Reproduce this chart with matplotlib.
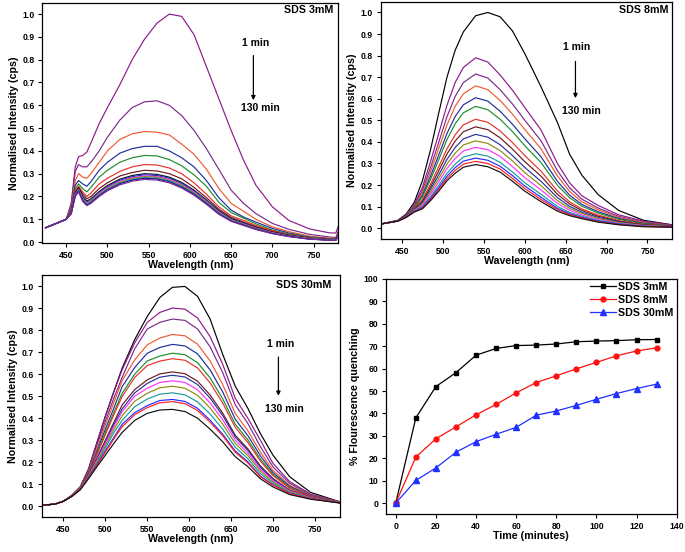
import matplotlib
matplotlib.use('Agg')
import matplotlib.pyplot as plt

plt.rcParams['font.family'] = ['Liberation Sans', 'DejaVu Sans']
plt.rcParams['font.weight'] = 'bold'

# ---- SDS 3mM spectra ----
wl_3 = [425, 440, 450, 456, 461, 465, 470, 475, 480, 490, 500, 515, 530, 545, 560,
        575, 590, 605, 620, 635, 650, 665, 680, 700, 720, 745, 770, 777, 780]
s3_a = [0.063, 0.085, 0.10, 0.17, 0.33, 0.375, 0.38, 0.395, 0.435, 0.52, 0.59, 0.69, 0.80, 0.89, 0.96,
        1.0, 0.99, 0.91, 0.77, 0.63, 0.49, 0.36, 0.25, 0.155, 0.095, 0.058, 0.04, 0.04, 0.07]
s3_b = [0.063, 0.085, 0.10, 0.16, 0.31, 0.34, 0.33, 0.33, 0.35, 0.40, 0.46, 0.535, 0.59, 0.615, 0.62,
        0.60, 0.555, 0.49, 0.41, 0.32, 0.228, 0.17, 0.125, 0.082, 0.056, 0.034, 0.022, 0.02, 0.05]
s3_c = [0.063, 0.085, 0.10, 0.15, 0.27, 0.30, 0.285, 0.28, 0.30, 0.35, 0.40, 0.45, 0.475, 0.485, 0.482,
        0.47, 0.43, 0.385, 0.32, 0.236, 0.17, 0.135, 0.10, 0.067, 0.046, 0.026, 0.017, 0.016, 0.04]
s3_d = [0.063, 0.085, 0.10, 0.145, 0.25, 0.27, 0.255, 0.245, 0.265, 0.315, 0.35, 0.39, 0.41, 0.42, 0.42,
        0.40, 0.37, 0.33, 0.27, 0.195, 0.14, 0.11, 0.088, 0.06, 0.04, 0.022, 0.015, 0.014, 0.035]
s3_e = [0.063, 0.085, 0.10, 0.14, 0.235, 0.255, 0.235, 0.22, 0.24, 0.285, 0.315, 0.35, 0.37, 0.38, 0.378,
        0.362, 0.335, 0.295, 0.245, 0.175, 0.13, 0.105, 0.08, 0.053, 0.036, 0.02, 0.013, 0.013, 0.03]
s3_f = [0.063, 0.085, 0.10, 0.135, 0.225, 0.245, 0.22, 0.20, 0.215, 0.255, 0.28, 0.31, 0.33, 0.34, 0.338,
        0.325, 0.30, 0.26, 0.21, 0.155, 0.115, 0.095, 0.073, 0.05, 0.033, 0.018, 0.012, 0.012, 0.03]
s3_g = [0.063, 0.085, 0.10, 0.13, 0.22, 0.24, 0.21, 0.19, 0.20, 0.235, 0.26, 0.29, 0.305, 0.315, 0.312,
        0.30, 0.278, 0.24, 0.195, 0.145, 0.108, 0.088, 0.068, 0.046, 0.031, 0.017, 0.011, 0.011, 0.03]
s3_h = [0.063, 0.085, 0.10, 0.13, 0.215, 0.235, 0.20, 0.18, 0.19, 0.222, 0.248, 0.276, 0.292, 0.30, 0.297,
        0.285, 0.262, 0.228, 0.185, 0.138, 0.103, 0.083, 0.064, 0.043, 0.029, 0.016, 0.01, 0.01, 0.03]
s3_i = [0.063, 0.085, 0.10, 0.128, 0.212, 0.232, 0.195, 0.175, 0.185, 0.218, 0.243, 0.271, 0.287, 0.295, 0.292,
        0.28, 0.257, 0.224, 0.182, 0.135, 0.10, 0.081, 0.062, 0.042, 0.028, 0.015, 0.01, 0.01, 0.028]
s3_j = [0.063, 0.085, 0.10, 0.127, 0.21, 0.23, 0.19, 0.172, 0.182, 0.214, 0.239, 0.266, 0.282, 0.29, 0.287,
        0.275, 0.252, 0.22, 0.178, 0.132, 0.098, 0.079, 0.061, 0.041, 0.027, 0.015, 0.009, 0.009, 0.028]
s3_k = [0.063, 0.085, 0.10, 0.126, 0.207, 0.228, 0.188, 0.17, 0.18, 0.211, 0.236, 0.263, 0.279, 0.287, 0.284,
        0.272, 0.249, 0.217, 0.176, 0.13, 0.097, 0.078, 0.06, 0.04, 0.026, 0.014, 0.009, 0.009, 0.027]
s3_l = [0.063, 0.085, 0.10, 0.125, 0.205, 0.226, 0.185, 0.166, 0.176, 0.207, 0.232, 0.259, 0.275, 0.283, 0.28,
        0.268, 0.245, 0.213, 0.172, 0.127, 0.095, 0.076, 0.058, 0.039, 0.026, 0.014, 0.009, 0.009, 0.027]
s3_m = [0.063, 0.085, 0.10, 0.124, 0.203, 0.224, 0.182, 0.163, 0.173, 0.204, 0.229, 0.256, 0.272, 0.28, 0.277,
        0.265, 0.242, 0.21, 0.17, 0.125, 0.093, 0.075, 0.057, 0.038, 0.025, 0.013, 0.008, 0.008, 0.026]
s3_n = [0.063, 0.085, 0.10, 0.123, 0.20, 0.22, 0.178, 0.16, 0.17, 0.20, 0.225, 0.251, 0.267, 0.275, 0.272,
        0.26, 0.237, 0.206, 0.166, 0.122, 0.091, 0.073, 0.055, 0.037, 0.024, 0.013, 0.008, 0.008, 0.026]

# ---- SDS 8mM spectra ----
wl_8 = [425, 445, 455, 465, 475, 485, 495, 505, 515, 525, 540, 555, 570, 585, 600, 620,
        640, 655, 670, 690, 715, 745, 780]
s8_00 = [0.02, 0.037, 0.065, 0.12, 0.22, 0.365, 0.535, 0.70, 0.825, 0.91, 0.985, 1.0, 0.98, 0.915, 0.81, 0.655,
         0.49, 0.342, 0.245, 0.155, 0.082, 0.037, 0.016]
s8_01 = [0.02, 0.035, 0.06, 0.11, 0.19, 0.31, 0.44, 0.57, 0.675, 0.745, 0.79, 0.77, 0.71, 0.64, 0.56, 0.455,
         0.30, 0.21, 0.15, 0.105, 0.062, 0.033, 0.015]
s8_02 = [0.02, 0.035, 0.058, 0.105, 0.175, 0.282, 0.399, 0.517, 0.611, 0.675, 0.715, 0.696, 0.642, 0.576, 0.501, 0.405,
         0.266, 0.187, 0.134, 0.093, 0.055, 0.029, 0.013]
s8_03 = [0.02, 0.034, 0.057, 0.101, 0.164, 0.262, 0.37, 0.478, 0.565, 0.623, 0.66, 0.642, 0.592, 0.529, 0.458, 0.368,
         0.242, 0.17, 0.122, 0.085, 0.05, 0.026, 0.012]
s8_04 = [0.02, 0.034, 0.056, 0.097, 0.153, 0.242, 0.34, 0.439, 0.518, 0.572, 0.605, 0.589, 0.542, 0.482, 0.415, 0.331,
         0.217, 0.153, 0.11, 0.076, 0.045, 0.023, 0.011]
s8_05 = [0.02, 0.034, 0.055, 0.094, 0.145, 0.227, 0.318, 0.411, 0.484, 0.535, 0.565, 0.549, 0.505, 0.448, 0.383, 0.304,
         0.199, 0.141, 0.102, 0.07, 0.041, 0.021, 0.01]
s8_06 = [0.02, 0.034, 0.054, 0.09, 0.132, 0.205, 0.286, 0.368, 0.433, 0.479, 0.505, 0.491, 0.451, 0.397, 0.337, 0.264,
         0.173, 0.122, 0.089, 0.061, 0.035, 0.018, 0.009]
s8_07 = [0.02, 0.034, 0.054, 0.087, 0.125, 0.192, 0.267, 0.344, 0.404, 0.447, 0.47, 0.457, 0.419, 0.367, 0.309, 0.241,
         0.157, 0.112, 0.082, 0.055, 0.032, 0.016, 0.009]
s8_08 = [0.02, 0.033, 0.053, 0.085, 0.118, 0.18, 0.248, 0.319, 0.374, 0.414, 0.435, 0.422, 0.387, 0.337, 0.282, 0.217,
         0.142, 0.101, 0.074, 0.05, 0.029, 0.014, 0.008]
s8_09 = [0.02, 0.033, 0.052, 0.083, 0.112, 0.168, 0.231, 0.298, 0.348, 0.386, 0.405, 0.393, 0.36, 0.312, 0.258, 0.197,
         0.128, 0.092, 0.068, 0.045, 0.026, 0.013, 0.007]
s8_10 = [0.02, 0.033, 0.052, 0.081, 0.106, 0.157, 0.215, 0.277, 0.323, 0.358, 0.375, 0.364, 0.333, 0.286, 0.235, 0.177,
         0.115, 0.083, 0.061, 0.04, 0.023, 0.011, 0.007]
s8_11 = [0.02, 0.033, 0.051, 0.079, 0.10, 0.146, 0.199, 0.255, 0.297, 0.33, 0.345, 0.334, 0.305, 0.261, 0.211, 0.157,
         0.101, 0.073, 0.055, 0.036, 0.021, 0.01, 0.006]
s8_12 = [0.02, 0.033, 0.051, 0.077, 0.096, 0.139, 0.188, 0.241, 0.281, 0.311, 0.325, 0.315, 0.287, 0.244, 0.196, 0.143,
         0.092, 0.067, 0.05, 0.033, 0.019, 0.009, 0.006]
s8_13 = [0.02, 0.033, 0.05, 0.076, 0.093, 0.133, 0.18, 0.23, 0.268, 0.297, 0.31, 0.30, 0.274, 0.231, 0.184, 0.133,
         0.086, 0.063, 0.047, 0.03, 0.017, 0.008, 0.005]
s8_14 = [0.02, 0.033, 0.05, 0.075, 0.09, 0.128, 0.172, 0.22, 0.255, 0.283, 0.295, 0.285, 0.26, 0.218, 0.172, 0.123,
         0.079, 0.058, 0.044, 0.028, 0.016, 0.007, 0.005]

# ---- SDS 30mM spectra ----
wl_30 = [425, 440, 450, 460, 470, 480, 490, 500, 510, 520, 535, 550, 565, 580, 595, 610,
         625, 640, 655, 670, 685, 700, 720, 745, 780]
s30_00 = [0.005, 0.01, 0.023, 0.05, 0.088, 0.17, 0.29, 0.41, 0.52, 0.627, 0.757, 0.862, 0.948, 0.994, 0.998, 0.953,
          0.85, 0.69, 0.545, 0.445, 0.33, 0.232, 0.134, 0.063, 0.02]
s30_01 = [0.005, 0.01, 0.023, 0.05, 0.088, 0.17, 0.29, 0.408, 0.518, 0.62, 0.742, 0.835, 0.88, 0.90, 0.895, 0.855,
          0.77, 0.645, 0.49, 0.40, 0.30, 0.195, 0.112, 0.055, 0.02]
s30_02 = [0.005, 0.01, 0.023, 0.049, 0.087, 0.165, 0.278, 0.386, 0.49, 0.585, 0.715, 0.805, 0.835, 0.85, 0.844, 0.805,
          0.724, 0.607, 0.461, 0.376, 0.271, 0.179, 0.104, 0.052, 0.019]
s30_03 = [0.005, 0.01, 0.023, 0.049, 0.085, 0.158, 0.261, 0.37, 0.47, 0.57, 0.665, 0.733, 0.764, 0.78, 0.774, 0.736,
          0.66, 0.553, 0.421, 0.343, 0.246, 0.163, 0.095, 0.049, 0.019]
s30_04 = [0.005, 0.01, 0.023, 0.048, 0.083, 0.154, 0.25, 0.35, 0.445, 0.543, 0.63, 0.695, 0.721, 0.735, 0.728, 0.692,
          0.619, 0.519, 0.395, 0.321, 0.229, 0.153, 0.09, 0.047, 0.018]
s30_05 = [0.005, 0.01, 0.023, 0.048, 0.082, 0.15, 0.24, 0.335, 0.425, 0.513, 0.60, 0.66, 0.682, 0.695, 0.688, 0.652,
          0.583, 0.488, 0.372, 0.302, 0.214, 0.145, 0.085, 0.045, 0.018]
s30_06 = [0.005, 0.01, 0.023, 0.048, 0.082, 0.148, 0.235, 0.325, 0.415, 0.498, 0.585, 0.639, 0.659, 0.67, 0.663, 0.628,
          0.56, 0.469, 0.358, 0.29, 0.205, 0.139, 0.082, 0.044, 0.018]
s30_07 = [0.005, 0.01, 0.023, 0.047, 0.08, 0.142, 0.22, 0.30, 0.38, 0.46, 0.53, 0.574, 0.601, 0.61, 0.602, 0.568,
          0.505, 0.423, 0.323, 0.261, 0.183, 0.126, 0.074, 0.04, 0.017]
s30_08 = [0.005, 0.01, 0.023, 0.047, 0.079, 0.14, 0.215, 0.292, 0.37, 0.442, 0.515, 0.558, 0.586, 0.595, 0.587, 0.553,
          0.491, 0.412, 0.314, 0.254, 0.177, 0.122, 0.072, 0.04, 0.017]
s30_09 = [0.005, 0.01, 0.023, 0.046, 0.079, 0.138, 0.21, 0.285, 0.36, 0.43, 0.50, 0.536, 0.562, 0.57, 0.562, 0.529,
          0.469, 0.393, 0.30, 0.242, 0.168, 0.117, 0.069, 0.039, 0.016]
s30_10 = [0.005, 0.01, 0.023, 0.046, 0.078, 0.136, 0.203, 0.275, 0.347, 0.411, 0.477, 0.513, 0.538, 0.545, 0.536, 0.504,
          0.446, 0.373, 0.285, 0.23, 0.159, 0.111, 0.066, 0.037, 0.016]
s30_11 = [0.005, 0.01, 0.023, 0.046, 0.077, 0.133, 0.197, 0.265, 0.333, 0.39, 0.452, 0.487, 0.509, 0.515, 0.506, 0.474,
          0.419, 0.35, 0.268, 0.216, 0.148, 0.105, 0.062, 0.036, 0.016]
s30_12 = [0.005, 0.01, 0.023, 0.045, 0.076, 0.13, 0.19, 0.252, 0.312, 0.372, 0.425, 0.457, 0.48, 0.485, 0.476, 0.445,
          0.391, 0.327, 0.251, 0.202, 0.137, 0.098, 0.059, 0.034, 0.015]
s30_13 = [0.005, 0.01, 0.023, 0.045, 0.076, 0.129, 0.187, 0.245, 0.305, 0.361, 0.416, 0.448, 0.47, 0.475, 0.466, 0.435,
          0.382, 0.32, 0.245, 0.197, 0.134, 0.096, 0.058, 0.034, 0.015]
s30_14 = [0.005, 0.01, 0.023, 0.045, 0.075, 0.126, 0.18, 0.232, 0.285, 0.335, 0.39, 0.422, 0.437, 0.44, 0.43, 0.40,
          0.35, 0.293, 0.225, 0.18, 0.125, 0.088, 0.053, 0.032, 0.015]

# ---- quenching vs time ----
time_min = [0, 10, 20, 30, 40, 50, 60, 70, 80, 90, 100, 110, 120, 130]
q_3mM = [0, 38, 52, 58.2, 66, 69, 70.3, 70.5, 71, 72, 72.3, 72.5, 72.9, 73]
q_8mM = [0, 20.5, 28.7, 34, 39.4, 44, 49.2, 53.8, 56.8, 59.9, 62.8, 65.7, 67.9, 69.3]
q_30mM = [0, 10.1, 15.7, 22.7, 27.4, 30.7, 33.8, 39.2, 41.1, 43.6, 46.3, 48.9, 51.1, 53.1]

spec_3 = [s3_a, s3_b, s3_c, s3_d, s3_e, s3_f, s3_g, s3_h, s3_i, s3_j, s3_k, s3_l, s3_m, s3_n]
spec_8 = [s8_00, s8_01, s8_02, s8_03, s8_04, s8_05, s8_06, s8_07, s8_08, s8_09, s8_10, s8_11, s8_12, s8_13, s8_14]
spec_30 = [s30_00, s30_01, s30_02, s30_03, s30_04, s30_05, s30_06, s30_07, s30_08, s30_09, s30_10,
           s30_11, s30_12, s30_13, s30_14]

cols_3 = ['#8b1a8b', '#7b2a8b', '#f05a30', '#1f2f9a', '#1e8c2e', '#e8302a', '#6b1a1a',
          '#101010', '#2a2ad0', '#ff33ff', '#8c8c10', '#1a9a9a', '#20208a', '#8020a0']
cols_8 = ['#000000', '#8b1a8b', '#7a2a8a', '#f05a30', '#1f2f9a', '#1e8c2e', '#e8302a', '#6b1a1a',
          '#2a30a0', '#8c8c10', '#ff33ff', '#1a9a9a', '#2a2aff', '#ff2020', '#101010']
cols_30 = ['#000000', '#8b1a8b', '#7a2a8a', '#f05a30', '#1f2f9a', '#1e8c2e', '#e8302a', '#6b1a1a',
           '#2a30a0', '#ff33ff', '#8c8c10', '#1a9a9a', '#2a2aff', '#ff2020', '#101010']

W, H = 685, 552
fig = plt.figure(figsize=(W / 100, H / 100), dpi=100)


def box(l, t, r, b):
    return [l / W, 1 - b / H, (r - l) / W, (b - t) / H]


def style(ax):
    ax.tick_params(direction='out', length=3.2, width=0.8, labelsize=6.2, pad=2.2,
                   top=False, right=False)
    for s in ax.spines.values():
        s.set_linewidth(0.9)
    for lab in ax.get_xticklabels() + ax.get_yticklabels():
        lab.set_fontweight('bold')


def spectra(ax, wl, curves, cols, xlim, ylim, name, t1, arrow, t2):
    for y, c in zip(curves, cols):
        ax.plot(wl, y, color=c, lw=0.85)
    ax.set_xlim(*xlim)
    ax.set_ylim(*ylim)
    ax.set_xticks([450, 500, 550, 600, 650, 700, 750])
    ax.set_yticks([i / 10 for i in range(11)])
    ax.set_xlabel('Wavelength (nm)', fontsize=7.7, fontweight='bold', labelpad=0.5)
    ax.set_ylabel('Normalised Intensity (cps)', fontsize=7.7, fontweight='bold', labelpad=2.5)
    style(ax)
    ax.text(name[1], name[2], name[0], transform=ax.transAxes, ha='right', va='center',
            fontsize=7.7, fontweight='bold')
    ax.text(t1[0], t1[1], '1 min', ha='center', va='center', fontsize=7.5, fontweight='bold')
    ax.text(t2[0], t2[1], '130 min', ha='center', va='center', fontsize=7.5, fontweight='bold')
    ax.annotate('', xy=(arrow[0], arrow[2]), xytext=(arrow[0], arrow[1]),
                arrowprops=dict(arrowstyle='-|>', color='black', lw=0.9, mutation_scale=6))


ax1 = fig.add_axes(box(42.3, 2.7, 338.3, 243))
spectra(ax1, wl_3, spec_3, cols_3, (421, 780), (-0.004, 1.05), ('SDS 3mM', 0.985, 0.97),
        (680, 0.873), (677, 0.83, 0.61), (685, 0.588))

ax2 = fig.add_axes(box(380.7, 1.7, 672, 239))
spectra(ax2, wl_8, spec_8, cols_8, (424, 780), (-0.05, 1.05), ('SDS 8mM', 0.988, 0.965),
        (664, 0.842), (662, 0.786, 0.59), (669, 0.543))

ax3 = fig.add_axes(box(41.7, 275, 340, 517.3))
spectra(ax3, wl_30, spec_30, cols_30, (424, 780), (-0.05, 1.05), ('SDS 30mM', 0.972, 0.959),
        (709, 0.739), (706.5, 0.69, 0.489), (713.6, 0.44))

ax4 = fig.add_axes(box(385.7, 279, 676.7, 514.3))
ax4.plot(time_min, q_3mM, color='black', marker='s', ms=3.5, lw=0.9, label='SDS 3mM')
ax4.plot(time_min, q_8mM, color='#ff1010', marker='o', ms=3.5, lw=0.9, label='SDS 8mM')
ax4.plot(time_min, q_30mM, color='#2030ff', marker='^', ms=3.8, lw=0.9, label='SDS 30mM')
ax4.set_xlim(-5, 140)
ax4.set_ylim(-5, 100)
ax4.set_xticks(range(0, 141, 20))
ax4.set_yticks(range(0, 101, 10))
ax4.set_xlabel('Time (minutes)', fontsize=7.7, fontweight='bold', labelpad=0.5)
ax4.set_ylabel('% Flourescence quenching', fontsize=7.7, fontweight='bold', labelpad=2.5)
style(ax4)
ax4.legend(loc='upper right', frameon=False, handlelength=2.4,
           handletextpad=0.2, labelspacing=0.25, borderaxespad=0.1, borderpad=0.2,
           prop={'weight': 'bold', 'size': 7.7})

fig.savefig('out.png', dpi=100)
